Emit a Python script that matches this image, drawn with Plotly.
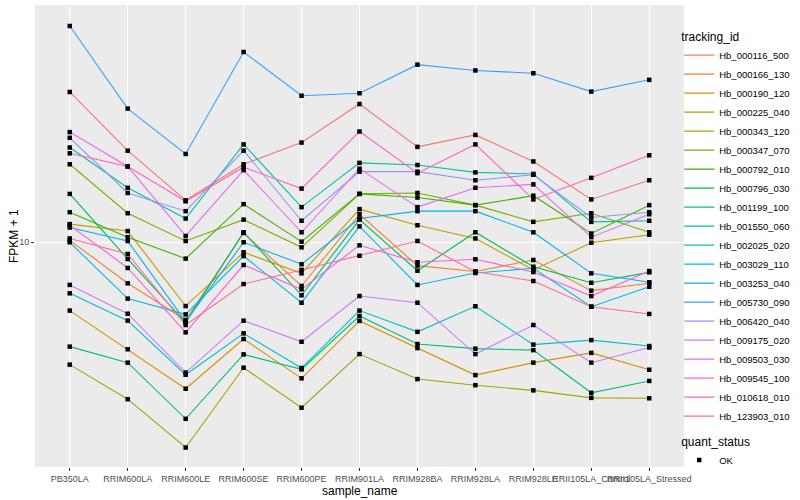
import plotly.graph_objects as go

samples = ["PB350LA", "RRIM600LA", "RRIM600LE", "RRIM600SE", "RRIM600PE", "RRIM901LA",
           "RRIM928BA", "RRIM928LA", "RRIM928LE", "RRII105LA_Control", "RRII105LA_Stressed"]

tracking_ids = ["Hb_000116_500", "Hb_000166_130", "Hb_000190_120", "Hb_000225_040", "Hb_000343_120",
                "Hb_000347_070", "Hb_000792_010", "Hb_000796_030", "Hb_001199_100", "Hb_001550_060",
                "Hb_002025_020", "Hb_003029_110", "Hb_003253_040", "Hb_005730_090", "Hb_006420_040",
                "Hb_009175_020", "Hb_009503_030", "Hb_009545_100", "Hb_010618_010", "Hb_123903_010"]

colors = ["#F8766D", "#EA8331", "#D89000", "#C09B00", "#A3A500", "#7CAE00", "#39B600", "#00BB4E",
          "#00BF7D", "#00C1A3", "#00BFC4", "#00BAE0", "#00B0F6", "#35A2FF", "#9590FF", "#C77CFF",
          "#E76BF3", "#FA62DB", "#FF62BC", "#FF6C91"]

# FPKM + 1 per sample (order of samples)
hb_000116_500 = [31.7, 20.2, 13.8, 18.2, 21.5, 28.9, 20.8, 22.8, 18.6, 13.9, 16.1]
hb_000166_130 = [10.15, 7.30, 5.51, 10.74, 7.15, 12.4, 8.36, 7.99, 8.73, 6.90, 7.30]
hb_000190_120 = [5.92, 4.40, 3.25, 4.76, 3.52, 5.47, 4.44, 3.61, 3.97, 4.28, 3.76]
hb_000225_040 = [11.5, 10.9, 6.13, 9.26, 7.88, 12.9, 11.4, 10.3, 8.09, 9.97, 10.6]
hb_000343_120 = [3.91, 3.00, 2.07, 3.82, 2.81, 4.24, 3.50, 3.34, 3.21, 3.03, 3.02]
hb_000347_070 = [18.2, 12.5, 10.1, 11.9, 9.62, 14.5, 14.6, 13.3, 11.7, 12.5, 10.8]
hb_000792_010 = [12.6, 10.4, 8.82, 13.4, 10.05, 14.5, 14.1, 13.3, 14.3, 10.7, 13.3]
hb_000796_030 = [14.5, 8.80, 5.40, 10.8, 6.66, 11.9, 8.04, 10.8, 8.29, 7.33, 7.94]
hb_001199_100 = [4.49, 3.97, 2.58, 4.23, 3.77, 5.68, 4.58, 4.42, 4.37, 3.15, 3.45]
hb_001550_060 = [20.7, 15.2, 12.0, 21.2, 13.1, 18.4, 18.1, 17.1, 16.9, 11.7, 11.8]
hb_002025_020 = [6.76, 5.48, 3.62, 4.97, 3.81, 5.92, 5.03, 6.12, 4.56, 4.72, 4.51]
hb_003029_110 = [10.0, 6.49, 5.75, 9.00, 6.29, 11.3, 7.21, 7.90, 8.19, 6.10, 7.11]
hb_003253_040 = [11.2, 10.1, 5.44, 10.0, 8.45, 12.0, 12.7, 12.7, 10.8, 7.88, 7.36]
hb_005730_090 = [52.6, 27.9, 19.7, 43.1, 30.8, 31.4, 39.1, 37.4, 36.6, 31.8, 34.8]
hb_006420_040 = [22.3, 14.6, 12.7, 20.2, 11.8, 17.2, 17.2, 16.1, 16.8, 12.1, 12.6]
hb_009175_020 = [7.21, 5.78, 3.68, 5.48, 4.66, 6.62, 6.29, 4.24, 5.30, 3.97, 4.46]
hb_009503_030 = [23.3, 17.9, 10.5, 17.4, 10.8, 17.6, 13.1, 15.2, 15.6, 10.4, 12.4]
hb_009545_100 = [11.4, 8.21, 5.01, 8.40, 6.97, 9.77, 8.58, 8.78, 7.96, 6.62, 8.02]
hb_010618_010 = [19.8, 17.9, 13.7, 17.8, 15.1, 23.4, 17.0, 21.2, 13.9, 16.4, 19.5]
hb_123903_010 = [10.3, 9.14, 5.30, 7.26, 8.09, 9.02, 10.1, 7.98, 7.43, 6.10, 5.77]

series = [hb_000116_500, hb_000166_130, hb_000190_120, hb_000225_040, hb_000343_120,
          hb_000347_070, hb_000792_010, hb_000796_030, hb_001199_100, hb_001550_060,
          hb_002025_020, hb_003029_110, hb_003253_040, hb_005730_090, hb_006420_040,
          hb_009175_020, hb_009503_030, hb_009545_100, hb_010618_010, hb_123903_010]

FONT = "Liberation Sans, Arial, sans-serif"

fig = go.Figure()
for name, col, vals in zip(tracking_ids, colors, series):
    fig.add_trace(go.Scatter(x=samples, y=vals, mode="lines", name=name,
                             line=dict(color=col, width=1.1), legend="legend"))

all_x, all_y = [], []
for vals in series:
    all_x += samples
    all_y += vals
fig.add_trace(go.Scatter(x=all_x, y=all_y, mode="markers", name="OK",
                         marker=dict(symbol="square", size=4.5, color="black"),
                         legend="legend2"))

fig.update_layout(
    width=800, height=500,
    margin=dict(l=35, r=116, t=5, b=33, autoexpand=False),
    paper_bgcolor="white", plot_bgcolor="#EBEBEB",
    font=dict(family=FONT, color="#4D4D4D"),
    xaxis=dict(type="category", categoryorder="array", categoryarray=samples,
               range=[-0.6, 10.6], showgrid=True, gridcolor="white", gridwidth=1.1,
               ticks="outside", ticklen=3, tickcolor="#333333", tickangle=0,
               tickfont=dict(size=9, color="#4D4D4D"), zeroline=False, showline=False,
               automargin=False),
    yaxis=dict(type="log", range=[0.251, 1.791], tickvals=[1, 10, 100], ticktext=["1", "10", "100"],
               showgrid=True, gridcolor="white", gridwidth=1.1,
               ticks="outside", ticklen=3, tickcolor="#333333",
               tickfont=dict(size=9, color="#4D4D4D"), zeroline=False, showline=False,
               automargin=False),
    annotations=[
        dict(text="sample_name", xref="paper", yref="paper", x=0.5, y=0, yshift=-24,
             xanchor="center", yanchor="middle", showarrow=False,
             font=dict(size=12, color="black", family=FONT)),
        dict(text="FPKM + 1", xref="paper", yref="paper", x=0, y=0.5, xshift=-21,
             xanchor="center", yanchor="middle", textangle=-90, showarrow=False,
             font=dict(size=12, color="black", family=FONT)),
    ],
    legend=dict(title=dict(text="tracking_id", font=dict(size=12, color="black")),
                xref="container", yref="container", x=0.849, xanchor="left",
                y=0.95, yanchor="top", maxheight=470,
                font=dict(size=9.5, color="black"), bgcolor="rgba(0,0,0,0)",
                itemwidth=30, tracegroupgap=0),
    legend2=dict(title=dict(text="quant_status", font=dict(size=12, color="black")),
                 xref="container", yref="container", x=0.849, xanchor="left",
                 y=0.14, yanchor="top",
                 font=dict(size=9.5, color="black"), bgcolor="rgba(0,0,0,0)", itemwidth=30),
    showlegend=True,
)

fig.write_html("out.html", config={"displayModeBar": False},
               post_script="document.body.style.margin='0px';")
